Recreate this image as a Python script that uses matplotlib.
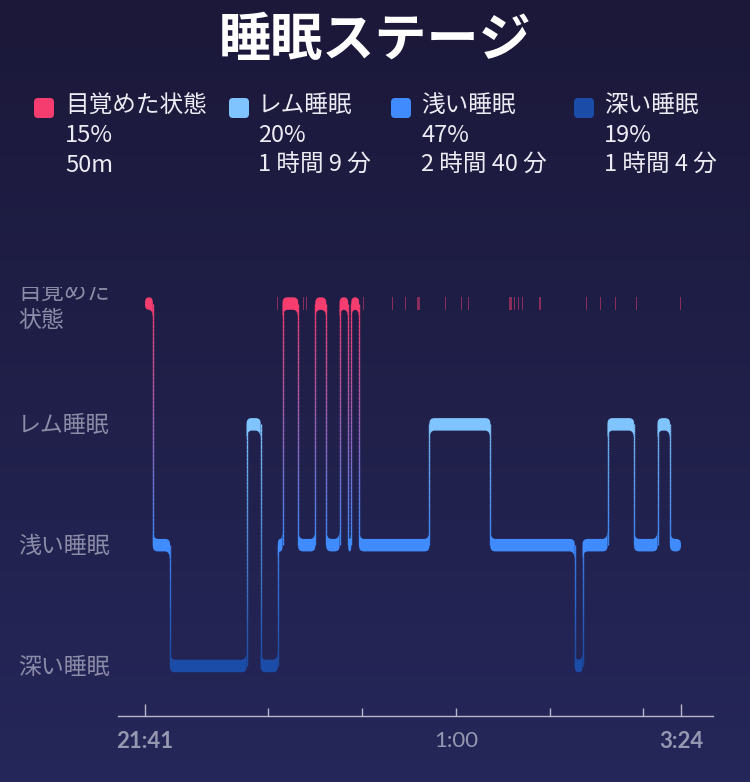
import numpy as np
import matplotlib.pyplot as plt
from matplotlib.path import Path
from matplotlib.patches import PathPatch, FancyBboxPatch
from matplotlib.collections import LineCollection
from matplotlib.colors import to_rgb

plt.rcParams['font.family'] = ['Noto Sans CJK JP', 'DejaVu Sans']

# legend block
stage_keys = ['wake', 'rem', 'light', 'deep']
stage_labels = ['目覚めた状態', 'レム睡眠', '浅い睡眠', '深い睡眠']
stage_pcts = ['15%', '20%', '47%', '19%']
stage_durs = ['50m', '1 時間 9 分', '2 時間 40 分', '1 時間 4 分']

# hypnogram, minutes after 21:41
seg_stage = ['wake', 'light', 'deep', 'rem', 'deep', 'light', 'wake', 'light',
             'wake', 'light', 'wake', 'light', 'wake', 'light', 'rem', 'light',
             'deep', 'light', 'rem', 'light', 'rem', 'light']
seg_start = [0, 5, 16, 65, 74, 85, 88, 98, 109, 116, 124.5, 130, 132, 137,
             182, 221, 275, 280, 296, 313, 328, 336]
sleep_end = 343

# short awakenings (thin marks on the top row)
blip_start = [84.4, 100.9, 102.9, 139.3, 158.0, 166.3, 173.8, 191.9, 202.1,
              206.6, 232.8, 235.9, 238.5, 241.0, 251.9, 282.0, 291.0, 300.6,
              314.0, 342.4]
blip_len = [0.8, 0.8, 0.8, 0.8, 0.8, 0.8, 2.0, 0.8, 0.8,
            0.8, 2.2, 0.8, 0.8, 0.8, 1.2, 0.8, 0.8, 0.8,
            0.8, 0.8]

tick_pos = [0, 199, 343]
tick_lbl = ['21:41', '1:00', '3:24']
minor_pos = [79, 139, 259, 319]

colors = {'wake': '#f63d6f', 'rem': '#80c4ff', 'light': '#408cff', 'deep': '#1b4ca8'}
level = {'wake': 3, 'rem': 2, 'light': 1, 'deep': 0}
ylabels = {'rem': 'レム睡眠', 'light': '浅い睡眠', 'deep': '深い睡眠'}

W, H = 750, 782
fig = plt.figure(figsize=(W / 100, H / 100), dpi=100)

# background
bg = fig.add_axes([0, 0, 1, 1])
bg.set_xlim(0, W)
bg.set_ylim(H, 0)
bg.axis('off')
top_c = np.array(to_rgb('#1b1839'))
bot_c = np.array(to_rgb('#25275a'))
g = np.linspace(0, 1, 256)[:, None, None]
bg.imshow(top_c + g * (bot_c - top_c), extent=[0, W, H, 0], aspect='auto', zorder=0)

bg.text(W / 2, 40, '睡眠ステージ', color='white', fontsize=37.5, fontweight='bold',
        ha='center', va='center')
sq_x = [34, 229, 391, 574]
txt_x = [65, 258, 421, 604]
for i, k in enumerate(stage_keys):
    bg.add_patch(FancyBboxPatch((sq_x[i] + 4, 98 + 4), 12, 12,
                                boxstyle='round,pad=4', fc=colors[k], ec='none'))
    bg.text(txt_x[i], 106, stage_labels[i], color='#ecebf3', fontsize=17, va='center')
    bg.text(txt_x[i], 136, stage_pcts[i], color='#ecebf3', fontsize=17, va='center')
    bg.text(txt_x[i], 165, stage_durs[i], color='#ecebf3', fontsize=17, va='center')

# main chart
ax_l, ax_r, ax_t, ax_b = 118, 713, 287, 716
xlim = (-17.3, 363.5)
ylim = (-0.414, 3.137)
ax = fig.add_axes([ax_l / W, (H - ax_b) / H, (ax_r - ax_l) / W, (ax_b - ax_t) / H])
ax.set_facecolor('none')
ax.set_xlim(*xlim)
ax.set_ylim(*ylim)
px_x = (ax_r - ax_l) / (xlim[1] - xlim[0])
px_y = (ax_b - ax_t) / (ylim[1] - ylim[0])

band_h = 12.5 / px_y


def band(x0, x1, yc, left, right):
    w = x1 - x0
    yb, yt = yc - band_h / 2, yc + band_h / 2
    r = min(5 / px_x, w / 2)
    ry = 5 / px_y
    fx = min(5 / px_x, w / 2)
    fy = 9 / px_y
    v, c = [], []
    # top-left
    if left == 'up':
        v += [(x0 + fx, yt), (x0, yt), (x0, yt + fy)]
    else:
        v += [(x0 + r, yt), (x0, yt), (x0, yt - ry)]
    c += [Path.MOVETO, Path.CURVE3, Path.CURVE3]
    # bottom-left
    if left == 'down':
        v += [(x0, yb - fy), (x0, yb), (x0 + fx, yb)]
    else:
        v += [(x0, yb + ry), (x0, yb), (x0 + r, yb)]
    c += [Path.LINETO, Path.CURVE3, Path.CURVE3]
    # bottom-right
    if right == 'down':
        v += [(x1 - fx, yb), (x1, yb), (x1, yb - fy)]
    else:
        v += [(x1 - r, yb), (x1, yb), (x1, yb + ry)]
    c += [Path.LINETO, Path.CURVE3, Path.CURVE3]
    # top-right
    if right == 'up':
        v += [(x1, yt + fy), (x1, yt), (x1 - fx, yt)]
    else:
        v += [(x1, yt - ry), (x1, yt), (x1 - r, yt)]
    c += [Path.LINETO, Path.CURVE3, Path.CURVE3]
    v.append(v[0])
    c.append(Path.CLOSEPOLY)
    return Path(v, c)


n = len(seg_stage)
seg_end = seg_start[1:] + [sleep_end]
for i in range(n):
    y = level[seg_stage[i]]
    left = None if i == 0 else ('up' if level[seg_stage[i - 1]] > y else 'down')
    right = None if i == n - 1 else ('up' if level[seg_stage[i + 1]] > y else 'down')
    ax.add_patch(PathPatch(band(seg_start[i], seg_end[i], y, left, right),
                           fc=colors[seg_stage[i]], ec='none', zorder=3))

# gradient connectors
for i in range(1, n):
    a, b = seg_stage[i - 1], seg_stage[i]
    ys = np.linspace(level[a], level[b], 61)
    pts = np.column_stack([np.full_like(ys, seg_start[i]), ys])
    segs = np.stack([pts[:-1], pts[1:]], axis=1)
    ca, cb = np.array(to_rgb(colors[a])), np.array(to_rgb(colors[b]))
    f = np.linspace(0, 1, 60)[:, None]
    ax.add_collection(LineCollection(segs, colors=ca + f * (cb - ca),
                                     linewidths=1.0, zorder=2, capstyle='butt'))

ax.bar(blip_start, band_h, bottom=level['wake'] - band_h / 2, width=blip_len,
       align='edge', color=colors['wake'], alpha=0.5, zorder=2)

# x axis
for s in ['top', 'left', 'right']:
    ax.spines[s].set_visible(False)
ax.spines['bottom'].set_color('#b7b7c9')
ax.spines['bottom'].set_linewidth(1)
ax.set_yticks([])
ax.set_xticks(tick_pos, tick_lbl)
ax.set_xticks(minor_pos, minor=True)
ax.tick_params(axis='x', which='both', direction='in', color='#b7b7c9', width=1,
               labelcolor='#9697b1', labelsize=16, pad=11)
ax.tick_params(axis='x', which='major', length=8)
ax.tick_params(axis='x', which='minor', length=6)
mt = ax.xaxis.get_major_ticks()
mt[0].tick1line.set_markersize(8.5)
mt[2].tick1line.set_markersize(8.5)
mt[1].tick1line.set_markersize(6)
for j, lab in enumerate(ax.get_xticklabels()):
    lab.set_family(['Lato', 'DejaVu Sans'])
    if j != 1:
        lab.set_fontweight('bold')

# stage labels on the left, clipped at the top of the chart
lab_ax = fig.add_axes([0, (H - ax_b) / H, ax_l / W, (ax_b - ax_t) / H])
lab_ax.set_xlim(0, ax_l)
lab_ax.set_ylim(*ylim)
lab_ax.axis('off')
for k, s in ylabels.items():
    lab_ax.text(18, level[k] - 0.01, s, color='#8b8ca7', fontsize=16.5, va='center')
lab_ax.text(18, level['wake'] + 0.09, '目覚めた', color='#8b8ca7', fontsize=16.5,
            va='center', clip_on=True)
lab_ax.text(18, level['wake'] - 0.14, '状態', color='#8b8ca7', fontsize=16.5,
            va='center', clip_on=True)

fig.savefig('out.png', dpi=100)
